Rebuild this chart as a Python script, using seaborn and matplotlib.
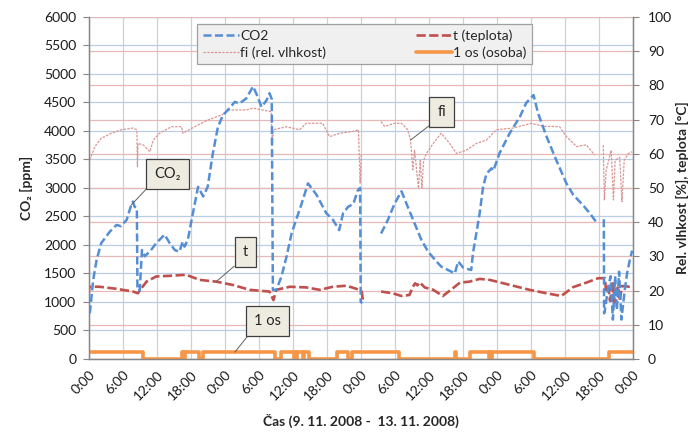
import numpy as np
import pandas as pd
import matplotlib
matplotlib.use("Agg")
import matplotlib.pyplot as plt
import seaborn as sns

sns.set_style("white")
plt.rcParams['font.family'] = ['Lato', 'DejaVu Sans']

# --- data (hours from 9.11.2008 0:00) ---
nan = np.nan
co2_h = [0.2, 0.8, 1.4, 2.2, 3.7, 4.9, 5.7, 6.7, 7.5, 7.8, 8.1, 8.5, 8.6, 9.0, 9.4, 9.9,
         11.0, 11.9, 13.4, 14.3, 15.2, 16.0, 16.6, 16.9, 17.5, 18.1, 19.3, 20.2, 21.0, 21.9,
         22.8, 23.7, 24.3, 25.8, 26.6, 27.8, 29.0, 29.6, 30.5, 31.4, 31.9, 32.3, 32.5, 33.1,
         34.0, 34.9, 35.8, 36.6, 37.5, 38.7, 40.2, 41.9, 43.1, 44.2, 44.9, 45.8, 46.7, 47.5,
         47.9, 48.0, 48.3, 50.0, 51.6, 52.8, 54.0, 55.2, 56.3, 57.5, 58.7, 59.9, 61.1, 62.2,
         63.4, 64.6, 65.2, 66.1, 67.5, 67.8, 68.4, 69.0, 69.6, 70.2, 71.1, 71.4, 72.5, 74.3,
         76.1, 77.2, 78.5, 79.3, 80.8, 82.5, 84.3, 85.5, 87.2, 88.4, 89.5, 90.2, 90.9, 90.95,
         91.1, 91.7, 92.1, 92.5, 92.9, 93.2, 93.6, 94.0, 94.6, 95.0, 95.5, 95.9]
co2_v = [800, 1390, 1740, 2030, 2230, 2350, 2330, 2440, 2700, 2760, 2670, 2650, 1210, 1200, 1910, 1800,
         1910, 2030, 2180, 2030, 1910, 1880, 2060, 1970, 2090, 2410, 3020, 2850, 3020, 3600,
         4070, 4280, 4340, 4510, 4480, 4570, 4780, 4650, 4420, 4540, 4660, 4560, 1210, 1210,
         1440, 1790, 2200, 2440, 2700, 3080, 2880, 2560, 2440, 2260, 2560, 2670, 2720, 2960,
         3000, 1000, 980, nan, 2200, 2440, 2730, 2940, 2670, 2380, 2090, 1880, 1740, 1620,
         1560, 1500, 1710, 1600, 1560, 1850, 2200, 2560, 3020, 3250, 3345, 3300, 3610, 3960,
         4250, 4490, 4630, 4310, 3900, 3490, 3080, 2880, 2700, 2560, 2410, nan, 2450, 800,
         860, 1270, 1450, 690, 1450, 860, 1530, 690, 1210, 1500, 1740, 1900]

fi_h = [0.2, 1.1, 2.2, 4.0, 5.8, 7.8, 8.5, 8.6, 8.7, 9.6, 10.8, 11.4, 12.5, 14.6, 16.4, 16.6,
        18.7, 21.1, 23.4, 24.9, 27.8, 29.0, 32.2, 32.4, 32.6, 34.9, 37.2, 38.4, 41.3, 42.5,
        44.3, 46.6, 47.6, 47.9, 48.1, 50.0, 51.6, 52.2, 54.0, 55.2, 56.3, 56.8, 57.2, 57.5,
        58.2, 58.5, 58.8, 59.1, 59.6, 60.8, 62.2, 63.7, 64.9, 66.6, 68.4, 70.2, 71.9, 74.9,
        78.1, 80.2, 83.1, 84.3, 86.1, 87.8, 89.3, 90.0, 90.8, 91.0, 91.3, 92.2, 92.6, 92.9,
        93.7, 94.1, 94.5, 95.2, 95.9]
fi_v = [58.2, 62.1, 64.5, 66.0, 67.0, 67.5, 67.0, 56.2, 63.0, 62.6, 60.6, 64.0, 66.0, 67.9, 67.9, 66.0,
        67.9, 69.9, 71.3, 72.8, 72.8, 73.3, 72.3, 63.0, 67.0, 67.9, 67.0, 68.9, 68.9, 65.0,
        66.0, 66.5, 67.0, 51.4, 60.0, nan, 69.4, 68.0, 68.9, 68.9, 67.0, 64.0, 55.3, 61.0,
        49.9, 58.0, 50.0, 58.0, 60.1, 63.0, 66.0, 63.0, 60.1, 61.0, 63.0, 64.0, 67.0, 67.5,
        68.9, 68.0, 67.9, 65.0, 62.1, 62.6, 59.6, nan, 62.5, 46.5, 55.0, 61.0, 46.5, 58.0,
        59.0, 46.0, 58.0, 60.0, 60.6]

t_h = [0.0, 0.1, 1.9, 4.9, 7.8, 8.7, 9.0, 10.2, 11.9, 14.3, 17.2, 19.6, 22.5, 25.5, 28.4, 31.9,
       32.6, 33.1, 35.5, 38.4, 40.8, 43.1, 45.5, 47.8, 48.2, 48.4, 50.0, 51.6, 53.6, 55.2, 56.6,
       57.2, 57.6, 58.0, 58.4, 59.3, 60.8, 62.5, 64.3, 65.5, 67.2, 69.0, 70.8, 73.7, 77.8, 80.8,
       83.4, 85.5, 87.8, 89.9, 91.1, 91.3, 91.7, 92.0, 92.5, 92.8, 93.4, 93.7, 94.1, 94.7, 95.9]
t_v = [19.0, 21.1, 21.1, 20.5, 19.7, 19.2, 20.0, 22.6, 24.1, 24.3, 24.6, 23.1, 22.6, 21.6, 20.2, 19.7,
       17.2, 20.2, 21.1, 20.9, 20.2, 21.1, 21.4, 20.2, 19.6, 16.8, nan, 19.7, 19.2, 18.4, 18.7,
       21.1, 22.1, 21.5, 22.4, 20.9, 20.2, 18.4, 20.7, 22.3, 22.6, 23.4, 23.1, 21.9, 20.2, 19.2,
       18.4, 21.0, 22.3, 23.6, 23.6, 19.7, 21.0, 17.0, 22.6, 16.5, 21.3, 17.0, 21.3, 21.3, 20.9]

os_h = [0, 9.6, 16.4, 16.6, 16.7, 16.9, 17.0, 19.5, 20.2, 32.8, 34.0, 36.3, 36.5, 36.6, 36.8,
        37.8, 38.0, 38.8, 43.8, 45.8, 46.4, 54.8, 64.6, 64.9, 67.2, 70.6, 70.8, 70.9, 71.1,
        78.6, 91.8, 96]
os_v = [2, 0, 2, 0, 2, 0, 2, 0, 2, 0, 2, 0, 2, 0, 2,
        0, 2, 0, 2, 0, 2, 0, 2, 0, 2, 0, 2, 0, 2,
        0, 2, 2]

xtick_labels = ['0:00', '6:00', '12:00', '18:00'] * 4 + ['0:00']

c_co2 = '#558ed5'
c_t = '#c0504d'
c_fi = '#d99694'
c_os = '#f79646'


def segments(h, v):
    df = pd.DataFrame({'h': h, 'v': v})
    df['seg'] = df['v'].isna().cumsum()
    return df.dropna()


fig = plt.figure(figsize=(6.93, 4.34), dpi=100)
ax = fig.add_subplot(111)
fig.subplots_adjust(left=0.128, right=0.913, bottom=0.173, top=0.961)
ax2 = ax.twinx()
ax3 = ax.twinx()

# right axis series
sns.lineplot(data=segments(fi_h, fi_v), x='h', y='v', units='seg', estimator=None, ax=ax2,
             color=c_fi, lw=0.9, linestyle=(0, (2, 1)), label='fi (rel. vlhkost)')
sns.lineplot(data=segments(t_h, t_v), x='h', y='v', units='seg', estimator=None, ax=ax2,
             color=c_t, lw=1.9, linestyle=(0, (3.5, 1.3)), label='t (teplota)')
sns.lineplot(x=os_h, y=os_v, ax=ax2, color=c_os, lw=2.6, drawstyle='steps-post',
             label='1 os (osoba)')
# CO2 on top
sns.lineplot(data=segments(co2_h, co2_v), x='h', y='v', units='seg', estimator=None, ax=ax3,
             color=c_co2, lw=1.8, linestyle=(0, (3.2, 1.4)), label='CO2')

for a in (ax, ax2, ax3):
    a.set_xlim(0, 96)
    if a.get_legend():
        a.get_legend().remove()

ax.set_ylim(0, 6000)
ax.set_yticks(np.arange(0, 6001, 500))
ax3.set_ylim(0, 6000)
ax3.axis('off')
ax2.set_ylim(0, 100)
ax2.set_yticks(np.arange(0, 101, 10))

ax.set_xticks(np.arange(0, 97, 6))
ax.set_xticklabels(xtick_labels, rotation=45, ha='right', va='top', rotation_mode='anchor')

ax.grid(axis='y', color='#b9cde5', lw=0.9)
ax.grid(axis='x', color='#d0d0d0', lw=0.9)
ax2.grid(axis='y', color='#e6b9b8', lw=0.9)
ax2.set_axisbelow(True)
ax.set_axisbelow(True)

for a in (ax, ax2):
    for s in a.spines.values():
        s.set_color('#868686')
        s.set_linewidth(0.9)
    a.spines['top'].set_visible(False)
    a.tick_params(length=4, color='#868686', labelsize=10, labelcolor='#1a1a1a')
ax.tick_params(axis='y', pad=5)
ax.tick_params(axis='x', pad=3)
ax2.tick_params(axis='y', pad=7)

ax.set_xlabel('Čas (9. 11. 2008 -  13. 11. 2008)', fontweight='bold', fontsize=10, labelpad=8)
ax.set_ylabel('CO₂ [ppm]', fontweight='bold', fontsize=10, labelpad=8)
ax2.set_ylabel('Rel. vlhkost [%], teplota [°C]', fontweight='bold', fontsize=10, labelpad=3)

# legend
handles, labels = [], []
for a in (ax2, ax3):
    hh, ll = a.get_legend_handles_labels()
    for h_, l_ in zip(hh, ll):
        if l_ not in labels:
            handles.append(h_)
            labels.append(l_)
order = ['CO2', 'fi (rel. vlhkost)', 't (teplota)', '1 os (osoba)']
hmap = dict(zip(labels, handles))
leg = fig.legend([hmap[k] for k in order], order, ncol=2, loc='upper left',
                 bbox_to_anchor=(197 / 693, 1 - 66 / 434, 335 / 693, 42 / 434), mode='expand',
                 borderaxespad=0, fancybox=False, framealpha=1, facecolor='#f0f0f0',
                 edgecolor='#a0a0a0', fontsize=10, handlelength=2.6, handletextpad=0.1,
                 labelspacing=0.3, borderpad=0.4)
leg.get_frame().set_linewidth(0.9)

# callouts
box = dict(boxstyle='square,pad=0.55', fc='#eeece1', ec='#404040', lw=0.9)
arrow = dict(arrowstyle='-', color='#606060', lw=0.7, relpos=(0, 0), shrinkA=0, shrinkB=0)
ax3.annotate('CO₂', xy=(co2_h[8], co2_v[8]), xytext=(0.145, 0.542), textcoords='axes fraction',
             ha='center', va='center', fontsize=10.5, bbox=box, arrowprops=arrow, zorder=10)
ax2.annotate('fi', xy=(fi_h[41], fi_v[41]), xytext=(0.649, 0.721), textcoords='axes fraction',
             ha='center', va='center', fontsize=10.5, bbox=box, arrowprops=arrow, zorder=10)
ax2.annotate('t', xy=(t_h[12], t_v[12]), xytext=(0.288, 0.313), textcoords='axes fraction',
             ha='center', va='center', fontsize=10.5, bbox=box, arrowprops=arrow, zorder=10)
ax2.annotate('1 os', xy=(25.8, os_v[8]), xytext=(0.329, 0.111), textcoords='axes fraction',
             ha='center', va='center', fontsize=10.5, bbox=box, arrowprops=arrow, zorder=10)

fig.savefig('out.png', dpi=100)
